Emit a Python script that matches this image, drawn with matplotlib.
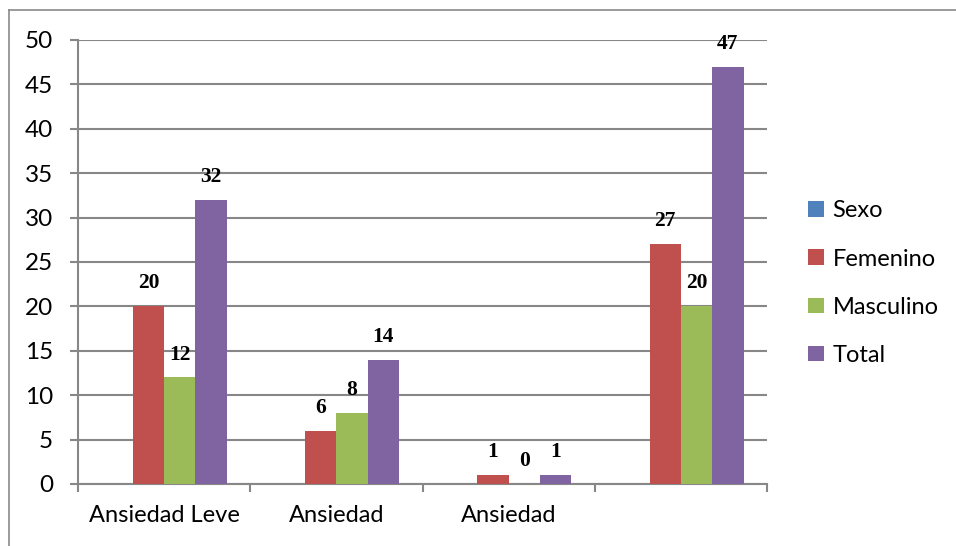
import matplotlib
matplotlib.use("Agg")
import matplotlib.pyplot as plt
from matplotlib.patches import Patch
from matplotlib.lines import Line2D
import numpy as np

# Data
categories = ["Ansiedad Leve", "Ansiedad", "Ansiedad", ""]
series_names = ["Sexo", "Femenino", "Masculino", "Total"]
sexo = [np.nan, np.nan, np.nan, np.nan]
femenino = [20, 6, 1, 27]
masculino = [12, 8, 0, 20]
total = [32, 14, 1, 47]
y_ticks = [0, 5, 10, 15, 20, 25, 30, 35, 40, 45, 50]

colors = ["#4F81BD", "#C0504D", "#9BBB59", "#8064A2"]
grid_gray = "#878787"

W, H = 956, 546
fig = plt.figure(figsize=(W / 100, H / 100), dpi=100)

# outer chart frame (partly clipped at right and bottom)
fig.add_artist(Line2D([9 / W, 1.0], [1 - 10 / H, 1 - 10 / H],
                      transform=fig.transFigure, color="#8a8a8a", lw=1.2))
fig.add_artist(Line2D([9 / W, 9 / W], [1 - 10 / H, 0.0],
                      transform=fig.transFigure, color="#8a8a8a", lw=1.2))

left, right, top, bottom = 78, 767, 40, 484
ax = fig.add_axes([left / W, 1 - bottom / H, (right - left) / W, (bottom - top) / H])

n_series = 4
gap = 1.5
bar_w = 1.0 / (n_series + gap)
x = np.arange(len(categories))
all_series = [sexo, femenino, masculino, total]

for i, (vals, col, name) in enumerate(zip(all_series, colors, series_names)):
    offs = (i - (n_series - 1) / 2) * bar_w
    vals_arr = np.array(vals, dtype=float)
    ax.bar(x + offs, vals_arr, width=bar_w, color=col, label=name, zorder=3,
           linewidth=0)
    for xi, v in zip(x + offs, vals_arr):
        if np.isnan(v):
            continue
        ax.annotate(f"{int(v)}", xy=(xi, v), xytext=(0, 16.5),
                    textcoords="offset points", ha="center", va="center",
                    fontsize=15.5, fontweight="bold", family="Liberation Serif",
                    color="black", zorder=4)

ax.set_xlim(-0.5, len(categories) - 0.5)
ax.set_ylim(0, 50)
ax.set_yticks(y_ticks)
ax.yaxis.grid(True, color=grid_gray, lw=1.5, zorder=0)
ax.set_axisbelow(True)

# category boundaries as major ticks, labels centered on categories
ax.set_xticks(np.arange(-0.5, len(categories), 1.0))
ax.set_xticklabels([])
ax.set_xticks(x, minor=True)
ax.set_xticklabels(categories, minor=True)
ax.tick_params(axis="x", which="major", length=6, width=1.5, color=grid_gray, direction="out")
ax.tick_params(axis="x", which="minor", length=0, pad=15, labelsize=17)
ax.tick_params(axis="y", length=6, width=1.5, color=grid_gray, direction="out",
               labelsize=17.5, pad=12)

for lbl in ax.get_xticklabels(minor=True) + ax.get_yticklabels():
    lbl.set_family("Lato")

for s in ["top", "right"]:
    ax.spines[s].set_visible(False)
for s in ["left", "bottom"]:
    ax.spines[s].set_color(grid_gray)
    ax.spines[s].set_linewidth(1.5)

handles = [Patch(facecolor=c, edgecolor="none") for c in colors]
leg = ax.legend(handles, series_names, loc="upper left",
                bbox_to_anchor=(799 / W, 1 - 191 / H), bbox_transform=fig.transFigure,
                frameon=False, fontsize=17, handlelength=0.64, handleheight=0.64,
                handletextpad=0.38, labelspacing=1.15, borderaxespad=0)
for t in leg.get_texts():
    t.set_family("Lato")

fig.savefig("out.png", dpi=100)
